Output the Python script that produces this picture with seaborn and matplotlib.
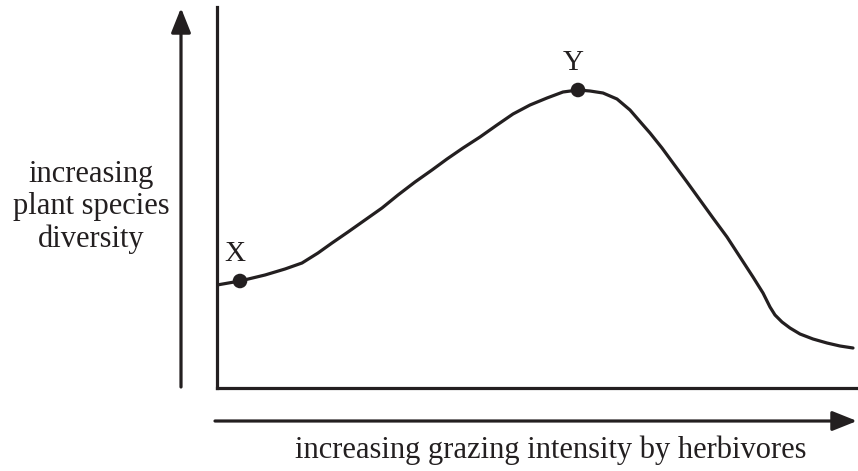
import numpy as np
import pandas as pd
import seaborn as sns
from matplotlib import pyplot as plt
from matplotlib.patches import FancyArrowPatch

# values (arbitrary units)
grazing = [0, 23, 48, 68, 85, 101, 115, 131, 148, 165, 181, 198, 215, 230,
           246, 263, 280, 296, 313, 330, 346, 361, 373, 386, 400, 413, 426,
           433, 445, 456, 470, 483, 496, 510, 523, 536, 546, 553, 558, 565,
           573, 583, 596, 610, 623, 636]
diversity = [103, 107, 113, 119, 125, 135, 145, 156, 168, 180, 193, 206, 218,
             229, 240, 251, 263, 274, 283, 290, 296, 298, 297, 295, 289, 278,
             263, 255, 240, 225, 206, 188, 170, 151, 131, 111, 95, 81, 73, 66,
             60, 54, 49, 45, 42, 40]

point_labels = ["X", "Y"]
point_x = [23, 361]
point_y = [107, 298]

x_label = "increasing grazing intensity by herbivores"
y_label = "increasing\nplant species\ndiversity"

sns.set_style("white")
plt.rcParams["font.family"] = ["Liberation Serif", "DejaVu Serif"]

W, H = 858, 471
ink = "#231f20"
fig = plt.figure(figsize=(W / 100, H / 100), dpi=100)
ax = fig.add_axes([217 / W, 1 - 388 / H, (858 - 217) / W, (388 - 7) / H])

curve = pd.DataFrame({"grazing": grazing, "diversity": diversity})
sns.lineplot(data=curve, x="grazing", y="diversity", ax=ax,
             color=ink, lw=2.3, sort=False)
sns.scatterplot(x=point_x, y=point_y, ax=ax, color=ink,
                s=110, edgecolor="none", zorder=5)

for lab, px, py in zip(point_labels, point_x, point_y):
    ax.text(px - 5, py + 14, lab, ha="center", va="bottom",
            fontsize=21, color=ink)

ax.set_xlim(0, 641)
ax.set_ylim(0, 381)
ax.set_xticks([])
ax.set_yticks([])
ax.set_xlabel("")
ax.set_ylabel("")
sns.despine(ax=ax)
for side in ["left", "bottom"]:
    ax.spines[side].set_linewidth(2.3)
    ax.spines[side].set_color(ink)

# axis arrows outside the plot box
arrow_style = "-|>,head_length=0.75,head_width=0.3"
fig.add_artist(FancyArrowPatch((181 / W, 1 - 387 / H), (181 / W, 1 - 8 / H),
                               transform=fig.transFigure, arrowstyle=arrow_style,
                               mutation_scale=20, lw=2.3, color=ink,
                               shrinkA=0, shrinkB=0))
fig.add_artist(FancyArrowPatch((215 / W, 1 - 421 / H), (857 / W, 1 - 421 / H),
                               transform=fig.transFigure, arrowstyle=arrow_style,
                               mutation_scale=20, lw=2.3, color=ink,
                               shrinkA=0, shrinkB=0))

fig.text(551 / W, 1 - 450 / H, x_label, ha="center", va="center",
         fontsize=22, color=ink)
fig.text(91 / W, 1 - 207 / H, y_label, ha="center", va="center",
         fontsize=22, color=ink, linespacing=1.15)

fig.savefig("out.png", dpi=100)
